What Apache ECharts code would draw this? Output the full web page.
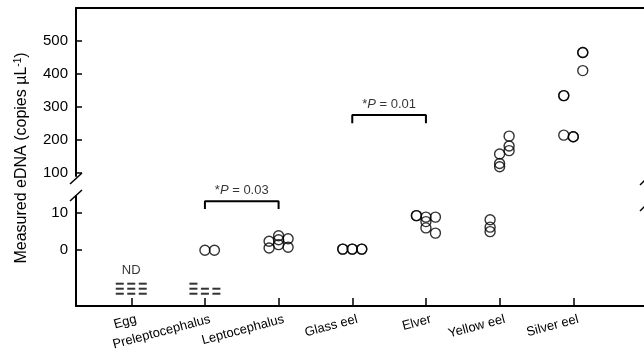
<!DOCTYPE html>
<html><head><meta charset="utf-8">
<script src="https://cdn.jsdelivr.net/npm/echarts@6/dist/echarts.min.js"></script>
<style>html,body{margin:0;padding:0;background:#fff}#c{width:644px;height:358px}</style>
</head><body><div id="c"></div>
<script>
const categories = ['Egg','Preleptocephalus','Leptocephalus','Glass eel','Elver','Yellow eel','Silver eel'];
const upperTicks = [100,200,300,400,500];
const lowerTicks = [0,10];

// detected samples, lower range (copies µL-1); slot = jitter column (-1,0,1)
const preleptoLow = [0, 0];
const preleptoSlot = [0, 1];
const leptoLow = [2.4, 0.6, 3.9, 2.8, 1.5, 3.1, 0.8];
const leptoSlot = [-1, -1, 0, 0, 0, 1, 1];
const glassLow = [0.3, 0.3, 0.3, 0.3, 0.3, 0.3];
const glassSlot = [-1, -1, 0, 0, 1, 1];
const elverLow = [9.3, 9.3, 8.9, 8.9, 7.7, 6.0, 4.6];
const elverSlot = [-1, -1, 0, 1, 0, 0, 1];
const yellowLow = [8.2, 6.2, 5.0];
const yellowLowSlot = [-1, -1, -1];
// upper range
const yellowHigh = [211, 181, 167, 157, 128, 118];
const yellowHighSlot = [1, 1, 1, 0, 0, 0];
const silverHigh = [465, 465, 410, 334, 334, 214, 209, 209];
const silverSlot = [1, 1, 1, -1, -1, -1, 0, 0];

// not-detected samples, one dash each: [row, slot]
const eggND = [[0,-1],[0,0],[0,1],[1,-1],[1,0],[1,1],[2,-1],[2,0],[2,1]];
const preleptoND = [[0,-1],[1,-1],[1,0],[1,1],[2,-1],[2,0],[2,1]];
const ndRows = [-9.0, -10.35, -11.7];

// significance brackets
const testPairs = [[2, 3], [4, 5]];
const testP = ['0.03', '0.01'];
const testTop = [13.2, 275];
const testLeg = [11.1, 250];
const testGrid = [1, 0];

const DOT = 0.129, DASH = 0.156;
const FONT = 'Liberation Sans, Arial, sans-serif';

function pts(cat, vals, slots) { return vals.map((v, i) => [cat + slots[i] * DOT, v]); }

const circleStyle = { color: 'rgba(0,0,0,0)', borderColor: '#000', borderWidth: 1.4 };
function dots(data, g) {
  return { type: 'scatter', xAxisIndex: g, yAxisIndex: g, data, symbol: 'circle', symbolSize: 10,
           itemStyle: circleStyle, silent: true, z: 3 };
}

const series = [
  dots(pts(2, preleptoLow, preleptoSlot), 1),
  dots(pts(3, leptoLow, leptoSlot), 1),
  dots(pts(4, glassLow, glassSlot), 1),
  dots(pts(5, elverLow, elverSlot), 1),
  dots(pts(6, yellowLow, yellowLowSlot), 1),
  dots(pts(6, yellowHigh, yellowHighSlot), 0),
  dots(pts(7, silverHigh, silverSlot), 0),
  { type: 'scatter', xAxisIndex: 1, yAxisIndex: 1, symbol: 'rect', symbolSize: [8, 2], silent: true,
    itemStyle: { color: '#000' },
    data: eggND.map(d => [1 + d[1] * DASH, ndRows[d[0]]]).concat(preleptoND.map(d => [2 + d[1] * DASH, ndRows[d[0]]])) },
  { type: 'scatter', xAxisIndex: 1, yAxisIndex: 1, symbolSize: 0, silent: true, data: [[1, ndRows[0]]],
    label: { show: true, position: 'top', distance: 7, formatter: 'ND', fontSize: 13, fontFamily: FONT, color: '#000' } }
];
testPairs.forEach((p, i) => {
  const g = testGrid[i];
  series.push({ type: 'line', xAxisIndex: g, yAxisIndex: g, symbol: 'none', silent: true,
    lineStyle: { color: '#000', width: 2 },
    data: [[p[0], testLeg[i]], [p[0], testTop[i]], [p[1], testTop[i]], [p[1], testLeg[i]]] });
  series.push({ type: 'scatter', xAxisIndex: g, yAxisIndex: g, symbolSize: 0, silent: true,
    data: [[(p[0] + p[1]) / 2, testTop[i]]],
    label: { show: true, position: 'top', distance: 4, formatter: '*{i|P} = ' + testP[i],
      fontSize: 13, fontFamily: FONT, color: '#000',
      rich: { i: { fontStyle: 'italic', fontSize: 13, fontFamily: FONT, color: '#000' } } } });
});

const axisLine = { show: true, onZero: false, lineStyle: { color: '#000', width: 2 } };
const xMin = 0.25, xMax = 7.96;
const catVals = categories.map((c, i) => i + 1);
const labelVals = catVals.map(v => v + 0.07);

const option = {
  animation: false,
  grid: [
    { left: 76, right: 0, top: 8, height: 168 },
    { left: 76, right: 0, top: 196.3, height: 109.7 }
  ],
  xAxis: [
    { gridIndex: 0, type: 'value', min: xMin, max: xMax, position: 'top', axisLine,
      axisTick: { show: false }, axisLabel: { show: false }, splitLine: { show: false } },
    { gridIndex: 1, type: 'value', min: xMin, max: xMax, position: 'bottom', axisLine,
      axisTick: { show: true, inside: true, length: 8, customValues: catVals, lineStyle: { color: '#000', width: 1.5 } },
      axisLabel: { show: true, customValues: labelVals, formatter: v => categories[Math.round(v) - 1],
        rotate: 15, margin: 13, fontSize: 13, fontFamily: FONT, color: '#000' },
      splitLine: { show: false } }
  ],
  yAxis: [
    { gridIndex: 0, type: 'value', min: 90, max: 600, axisLine,
      axisTick: { show: true, inside: true, length: 6, customValues: upperTicks, lineStyle: { color: '#000', width: 1.5 } },
      axisLabel: { customValues: upperTicks, fontSize: 15, fontFamily: FONT, color: '#000', margin: 8 },
      splitLine: { show: false } },
    { gridIndex: 1, type: 'value', min: -15, max: 14.5, axisLine,
      axisTick: { show: true, inside: true, length: 6, customValues: lowerTicks, lineStyle: { color: '#000', width: 1.5 } },
      axisLabel: { customValues: lowerTicks, fontSize: 15, fontFamily: FONT, color: '#000', margin: 8 },
      splitLine: { show: false } }
  ],
  graphic: [
    { type: 'rect', shape: { x: 70, y: 177, width: 14, height: 18 }, style: { fill: '#fff' }, z: 100 },
    { type: 'line', shape: { x1: 70, y1: 184, x2: 82, y2: 173 }, style: { stroke: '#000', lineWidth: 1.5 }, z: 101 },
    { type: 'line', shape: { x1: 70, y1: 201, x2: 82, y2: 190 }, style: { stroke: '#000', lineWidth: 1.5 }, z: 101 },
    { type: 'line', shape: { x1: 640, y1: 185, x2: 646, y2: 179 }, style: { stroke: '#000', lineWidth: 1.5 }, z: 101 },
    { type: 'line', shape: { x1: 640, y1: 211, x2: 646, y2: 205 }, style: { stroke: '#000', lineWidth: 1.5 }, z: 101 },
    { type: 'text', x: 22, y: 158, rotation: Math.PI / 2, z: 101,
      style: { text: 'Measured eDNA (copies µL{sup|-1})', fontSize: 16, fontFamily: FONT, fill: '#000',
        align: 'center', verticalAlign: 'middle', textAlign: 'center', textVerticalAlign: 'middle',
        lineHeight: 18,
        rich: { sup: { fontSize: 10, fontFamily: FONT, fill: '#000', verticalAlign: 'top', lineHeight: 12 } } } }
  ],
  series
};
echarts.init(document.getElementById('c'), null, { renderer: 'canvas' }).setOption(option);
</script></body></html>
